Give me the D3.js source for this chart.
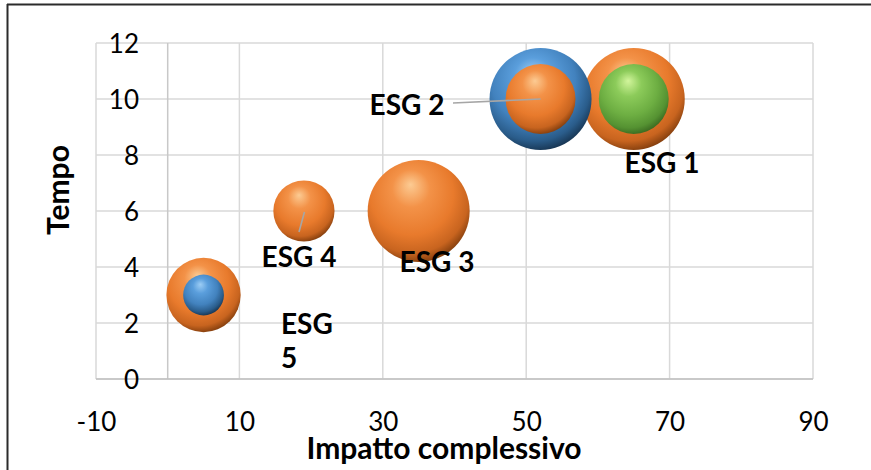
<!DOCTYPE html>
<html>
<head>
<meta charset="utf-8">
<script src="https://cdn.jsdelivr.net/npm/d3@7"></script>
<style>
  html, body { margin: 0; padding: 0; background: #fff; }
  svg { display: block; }
  text { font-family: Lato, "Open Sans", sans-serif; fill: #000; }
</style>
</head>
<body>
<svg id="chart" width="871" height="470"></svg>
<script>
// Points: overall impact (x) vs time (y)
const labels  = ["ESG 1", "ESG 2", "ESG 3", "ESG 4", "ESG 5"];
const impatto = [65, 52, 35, 19, 5];
const tempo   = [10, 10, 6, 6, 3];

// Bubble sizes per series (null = no bubble for that point)
const sizeOrange = [100, 47, 100, 36, 53];
const sizeBlue   = [null, 100, null, null, 16];
const sizeGreen  = [47, null, null, null, null];

const xTicks = [-10, 10, 30, 50, 70, 90];
const yTicks = [0, 2, 4, 6, 8, 10, 12];

const W = 871, H = 470;
const plot = { left: 96, right: 813, top: 43, bottom: 379 };

const svg = d3.select("#chart");

const x = d3.scaleLinear().domain([-10, 90]).range([plot.left, plot.right]);
const y = d3.scaleLinear().domain([0, 12]).range([plot.bottom, plot.top]);
const r = d3.scaleSqrt().domain([0, 100]).range([0, 51]);

// Sphere gradients
const defs = svg.append("defs");
const palettes = {
  orange: ["#FCCB93", "#F39248", "#E87A2C", "#C8641F", "#733509"],
  blue:   ["#9CCDF5", "#5A9EDC", "#4282BE", "#2A5C8A", "#132C45"],
  green:  ["#D2F59C", "#8CCB5A", "#6DAE42", "#559232", "#34601C"]
};
Object.entries(palettes).forEach(([name, c]) => {
  const g = defs.append("radialGradient")
    .attr("id", "sphere-" + name)
    .attr("cx", 0.44).attr("cy", 0.38).attr("r", 0.66)
    .attr("fx", 0.42).attr("fy", 0.24);
  [[0, c[0]], [0.28, c[1]], [0.62, c[2]], [0.84, c[3]], [1, c[4]]]
    .forEach(([o, col]) => g.append("stop").attr("offset", o).attr("stop-color", col));
});

// Frame lines (top and left)
svg.append("line").attr("x1", 7).attr("x2", W).attr("y1", 4.5).attr("y2", 4.5)
  .attr("stroke", "#2b2b2b").attr("stroke-width", 2);
svg.append("line").attr("x1", 7.5).attr("x2", 7.5).attr("y1", 4).attr("y2", H)
  .attr("stroke", "#2b2b2b").attr("stroke-width", 2);

// Gridlines
const grid = svg.append("g").attr("stroke", "#d9d9d9").attr("stroke-width", 1.5);
xTicks.forEach(t => grid.append("line")
  .attr("x1", x(t)).attr("x2", x(t)).attr("y1", plot.top).attr("y2", plot.bottom));
yTicks.forEach(t => grid.append("line")
  .attr("x1", plot.left).attr("x2", plot.right).attr("y1", y(t)).attr("y2", y(t)));

// Axis lines: vertical axis crosses at x = 0, horizontal at y = 0
svg.append("line").attr("x1", x(0)).attr("x2", x(0)).attr("y1", plot.top).attr("y2", plot.bottom)
  .attr("stroke", "#c8c8c8").attr("stroke-width", 1.5);
svg.append("line").attr("x1", plot.left).attr("x2", plot.right).attr("y1", y(0)).attr("y2", y(0))
  .attr("stroke", "#c0c0c0").attr("stroke-width", 1.5);

// Tick labels
const fmt = d => String(d);
const xAxis = d3.axisBottom(x).tickValues(xTicks).tickSize(0).tickPadding(0).tickFormat(fmt);
const gx = svg.append("g").attr("transform", `translate(0,${plot.bottom})`).call(xAxis);
gx.select(".domain").remove();
gx.selectAll("text").attr("y", 52).attr("dy", 0)
  .style("font-size", "26px").style("font-family", "Lato, sans-serif").attr("fill", "#000");

const yAxis = d3.axisLeft(y).tickValues(yTicks).tickSize(0).tickPadding(0).tickFormat(fmt);
const gy = svg.append("g").attr("transform", `translate(139,0)`).call(yAxis);
gy.select(".domain").remove();
gy.selectAll("text").attr("x", 0).attr("dy", "0.36em")
  .style("font-size", "26px").style("font-family", "Lato, sans-serif").attr("fill", "#000");

// Bubbles, larger first so smaller ones stay visible
const bubbles = [];
[["orange", sizeOrange], ["blue", sizeBlue], ["green", sizeGreen]].forEach(([col, sizes]) => {
  sizes.forEach((s, i) => {
    if (s != null) bubbles.push({ col, s, xv: impatto[i], yv: tempo[i] });
  });
});
bubbles.sort((a, b) => b.s - a.s);
svg.append("g").selectAll("circle").data(bubbles).join("circle")
  .attr("cx", d => x(d.xv)).attr("cy", d => y(d.yv)).attr("r", d => r(d.s))
  .attr("fill", d => `url(#sphere-${d.col})`);

// Leader lines
const leaders = svg.append("g").attr("stroke", "#a6a6a6").attr("stroke-width", 1.6);
leaders.append("line")
  .attr("x1", 453).attr("y1", 103).attr("x2", x(impatto[1])).attr("y2", y(tempo[1]));
leaders.append("line")
  .attr("x1", x(impatto[3]) + 0.5).attr("y1", y(tempo[3]) + 1).attr("x2", 299).attr("y2", 232);

// Data labels
const lab = svg.append("g").style("font-size", "28px").style("font-weight", "bold");
lab.append("text").attr("x", 662).attr("y", 173).attr("text-anchor", "middle").text(labels[0]);
lab.append("text").attr("x", 407).attr("y", 115).attr("text-anchor", "middle").text(labels[1]);
lab.append("text").attr("x", 437).attr("y", 272).attr("text-anchor", "middle").text(labels[2]);
lab.append("text").attr("x", 299).attr("y", 267).attr("text-anchor", "middle").text(labels[3]);
const l5 = lab.append("text").attr("x", 281).attr("y", 334);
const parts5 = labels[4].split(" ");
l5.append("tspan").attr("x", 281).attr("y", 334).text(parts5[0]);
l5.append("tspan").attr("x", 281).attr("y", 368).text(parts5[1]);

// Axis titles
svg.append("text").attr("x", 444).attr("y", 459).attr("text-anchor", "middle")
  .style("font-size", "30px").style("font-weight", "bold").text("Impatto complessivo");
svg.append("text").attr("transform", "translate(69,190) rotate(-90)").attr("text-anchor", "middle")
  .style("font-size", "30px").style("font-weight", "bold").text("Tempo");
</script>
</body>
</html>
